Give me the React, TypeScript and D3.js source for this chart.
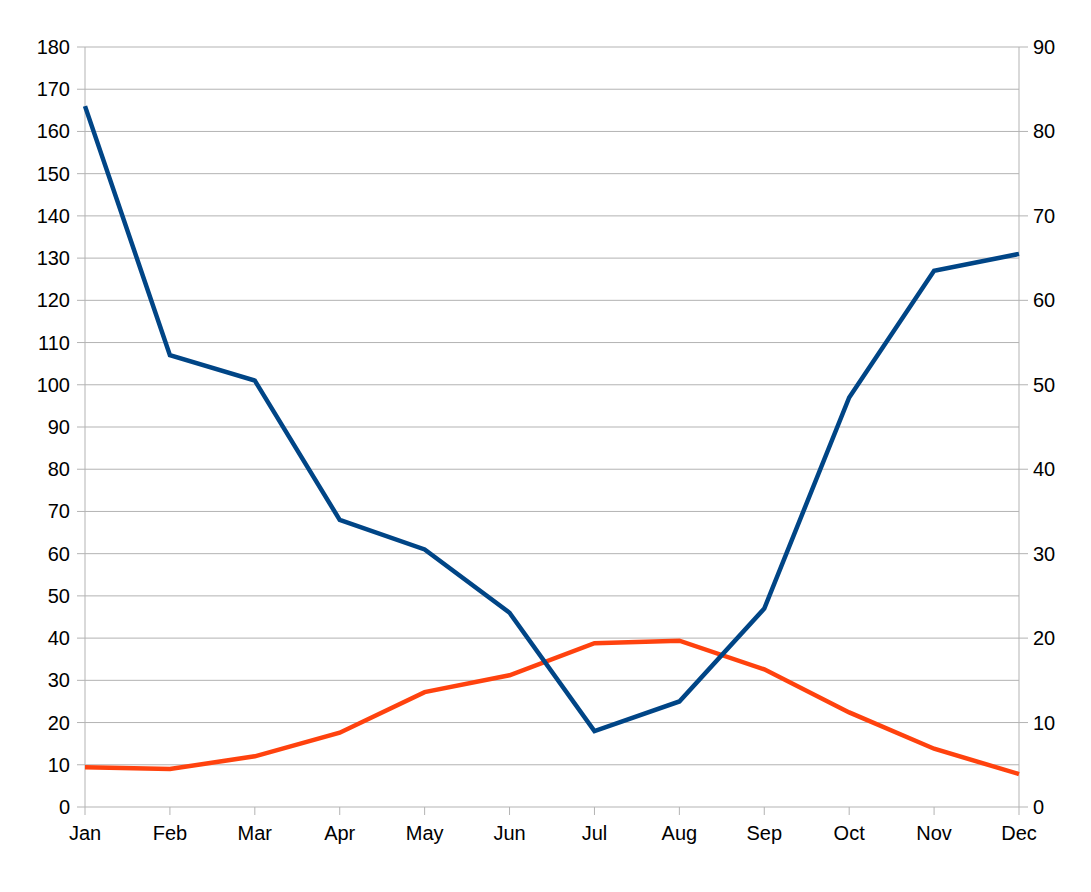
import React from "react";
import * as d3 from "d3";

const months = ["Jan", "Feb", "Mar", "Apr", "May", "Jun", "Jul", "Aug", "Sep", "Oct", "Nov", "Dec"];
const blueValues = [166, 107, 101, 68, 61, 46, 18, 25, 47, 97, 127, 131];
const orangeValues = [4.7, 4.5, 6.0, 8.8, 13.6, 15.6, 19.4, 19.7, 16.3, 11.2, 6.9, 3.9];
const leftTicks = d3.range(0, 181, 10);
const rightTicks = d3.range(0, 91, 10);

const W = 1091;
const H = 892;
const M = { left: 85, right: 1019, top: 47, bottom: 807 };
const FONT = "'Liberation Sans', Arial, sans-serif";

export default function App() {
  const x = d3.scalePoint<string>().domain(months).range([M.left, M.right]);
  const yL = d3.scaleLinear().domain([0, 180]).range([M.bottom, M.top]);
  const yR = d3.scaleLinear().domain([0, 90]).range([M.bottom, M.top]);

  const lineL = d3
    .line<number>()
    .x((_, i) => x(months[i]) as number)
    .y((d) => yL(d));
  const lineR = d3
    .line<number>()
    .x((_, i) => x(months[i]) as number)
    .y((d) => yR(d));

  const grid = "#b3b3b3";

  return (
    <svg width={W} height={H} style={{ position: "absolute", left: 0, top: 0, background: "#fff" }}>
      {leftTicks.map((t) => (
        <g key={"l" + t}>
          <line x1={M.left - 8} x2={M.right} y1={yL(t)} y2={yL(t)} stroke={grid} strokeWidth={1} />
          <text
            x={70}
            y={yL(t)}
            dy="0.35em"
            textAnchor="end"
            fontFamily={FONT}
            fontSize={20}
            fill="#000"
          >
            {t}
          </text>
        </g>
      ))}
      {rightTicks.map((t) => (
        <g key={"r" + t}>
          <line x1={M.right} x2={M.right + 9} y1={yR(t)} y2={yR(t)} stroke={grid} strokeWidth={1} />
          <text
            x={1033}
            y={yR(t)}
            dy="0.35em"
            textAnchor="start"
            fontFamily={FONT}
            fontSize={20}
            fill="#000"
          >
            {t}
          </text>
        </g>
      ))}
      <line x1={M.left} x2={M.left} y1={M.top} y2={M.bottom} stroke={grid} strokeWidth={1} />
      <line x1={M.right} x2={M.right} y1={M.top} y2={M.bottom} stroke={grid} strokeWidth={1} />
      {months.map((m) => (
        <g key={m}>
          <line
            x1={x(m)}
            x2={x(m)}
            y1={M.bottom}
            y2={M.bottom + 8}
            stroke={grid}
            strokeWidth={1}
          />
          <text
            x={x(m)}
            y={833}
            dy="0.35em"
            textAnchor="middle"
            fontFamily={FONT}
            fontSize={20}
            fill="#000"
          >
            {m}
          </text>
        </g>
      ))}
      <path d={lineR(orangeValues) || ""} fill="none" stroke="#ff420e" strokeWidth={4.5} strokeLinejoin="miter" />
      <path d={lineL(blueValues) || ""} fill="none" stroke="#004586" strokeWidth={4.5} strokeLinejoin="miter" />
    </svg>
  );
}
